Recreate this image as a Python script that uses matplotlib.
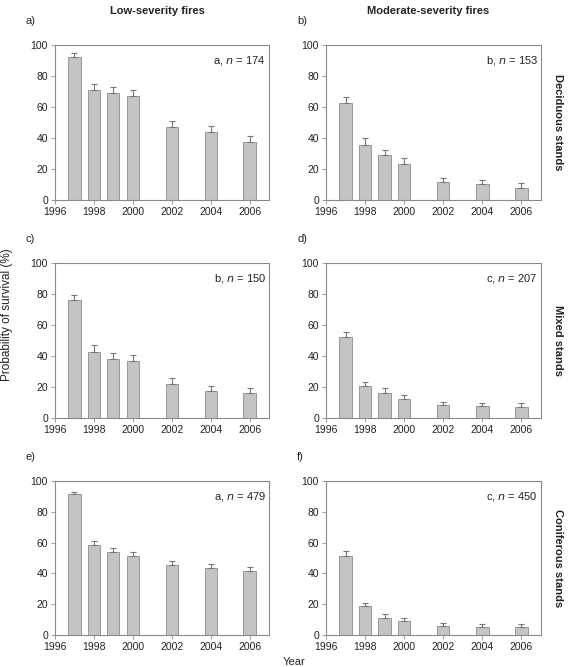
import numpy as np
import matplotlib
matplotlib.use("Agg")
import matplotlib.pyplot as plt

plt.rcParams["font.family"] = ["Liberation Sans", "DejaVu Sans"]

years = [1997, 1998, 1999, 2000, 2002, 2004, 2006]

# survival (%) and upper error bar end, per panel
surv_a = [92.3, 71.2, 68.8, 67.1, 47.1, 43.7, 37.2]
top_a = [94.6, 74.6, 72.7, 71.0, 51.0, 47.5, 41.0]
surv_b = [62.6, 35.7, 28.8, 23.4, 11.6, 10.3, 7.7]
top_b = [66.7, 40.0, 32.3, 27.1, 14.4, 12.9, 10.8]
surv_c = [75.9, 42.8, 37.8, 36.6, 21.9, 17.2, 15.9]
top_c = [79.6, 46.9, 42.2, 40.6, 25.6, 20.9, 19.1]
surv_d = [52.0, 20.4, 16.3, 12.0, 8.2, 7.7, 7.1]
top_d = [55.7, 23.2, 19.1, 14.8, 10.3, 9.9, 9.5]
surv_e = [91.4, 58.5, 53.8, 51.4, 45.4, 43.4, 41.5]
top_e = [92.9, 61.1, 56.4, 54.0, 48.2, 46.0, 44.1]
surv_f = [51.6, 18.8, 11.2, 9.1, 6.0, 5.4, 5.2]
top_f = [54.4, 20.7, 13.6, 11.0, 7.8, 7.1, 6.9]

panel_labels = ["a)", "b)", "c)", "d)", "e)", "f)"]
group_letters = ["a", "b", "b", "c", "a", "c"]
n_values = [174, 153, 150, 207, 479, 450]
col_titles = ["Low-severity fires", "Moderate-severity fires"]
row_titles = ["Deciduous stands", "Mixed stands", "Coniferous stands"]

surv = [surv_a, surv_b, surv_c, surv_d, surv_e, surv_f]
tops = [top_a, top_b, top_c, top_d, top_e, top_f]

W, H = 576, 667
fig = plt.figure(figsize=(W / 100, H / 100), dpi=100)

lefts = [55, 326]
rights = [269, 541]
tops_px = [45, 263, 481]
bottoms_px = [200, 418, 635]

bar_col = "#c4c4c4"
edge_col = "#8c8c8c"
frame_col = "#8a8a8a"
txt_col = "#222222"

for i in range(6):
    r, c = divmod(i, 2)
    l, rt = lefts[c], rights[c]
    t, b = tops_px[r], bottoms_px[r]
    ax = fig.add_axes([l / W, 1 - b / H, (rt - l) / W, (b - t) / H])
    vals = np.array(surv[i])
    errs = np.array(tops[i]) - vals
    ax.bar(years, vals, width=0.63, color=bar_col, edgecolor=edge_col, linewidth=0.6, zorder=2)
    ax.errorbar(years, vals, yerr=[np.zeros_like(vals), errs], fmt="none",
                ecolor="#777777", elinewidth=0.8, capsize=2.2, capthick=0.8, zorder=3)
    ax.set_xlim(1996, 2007)
    ax.set_ylim(0, 100)
    ax.set_xticks([1996, 1998, 2000, 2002, 2004, 2006])
    ax.set_yticks([0, 20, 40, 60, 80, 100])
    ax.tick_params(labelsize=7.5, colors=txt_col, length=3, width=0.6, color=frame_col, pad=2)
    for s in ax.spines.values():
        s.set_color(frame_col)
        s.set_linewidth(0.8)
    ax.text(0.985, 0.9, f"{group_letters[i]}, $\\it{{n}}$ = {n_values[i]}",
            transform=ax.transAxes, ha="right", va="center", fontsize=8, color=txt_col)
    fig.text((l - 29) / W, 1 - (t - 24) / H, panel_labels[i], fontsize=8, color=txt_col,
             ha="left", va="center")

for c in range(2):
    fig.text(((lefts[c] + rights[c]) / 2 - 5) / W, 1 - 11 / H, col_titles[c], fontsize=8,
             fontweight="bold", ha="center", va="center", color=txt_col)

for r in range(3):
    fig.text(558 / W, 1 - ((tops_px[r] + bottoms_px[r]) / 2) / H, row_titles[r], fontsize=8,
             fontweight="bold", rotation=270, ha="center", va="center", color=txt_col)

fig.text(1 / W, 1 - 315 / H, "Probability of survival (%)", fontsize=8.5, rotation=90,
         ha="left", va="center", color=txt_col)
fig.text(294 / W, 1 - 657 / H, "Year", fontsize=8, ha="center", va="top", color=txt_col)

fig.savefig("out.png", dpi=100)
